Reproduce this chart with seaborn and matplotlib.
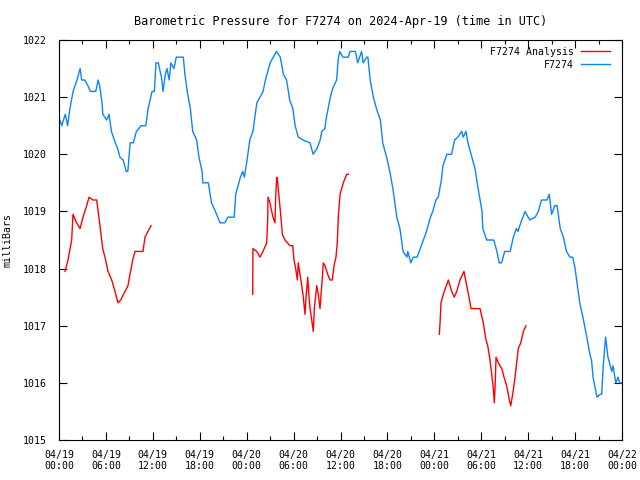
import pandas as pd
import numpy as np
import matplotlib
matplotlib.use("Agg")
import matplotlib.pyplot as plt
import seaborn as sns
from matplotlib.lines import Line2D
from matplotlib.ticker import MultipleLocator

# hours since 04/19 00:00 UTC
obs_hours = [0.1, 0.35, 0.8, 1.1, 1.4, 1.8, 2.3, 2.7, 2.9, 3.3, 3.7, 4.0, 4.7, 5.0, 5.2, 5.5, 5.6, 6.1, 6.4, 6.7,
             7.2, 7.5, 7.8, 8.2, 8.6, 8.8, 9.1, 9.5, 9.9, 10.5, 11.1, 11.4, 11.9, 12.2, 12.4, 12.7, 13.1, 13.3, 13.6, 13.8,
             14.1, 14.3, 14.7, 15.0, 15.9, 16.1, 16.4, 16.8, 17.1, 17.6, 17.9, 18.3, 18.4, 19.1, 19.5, 20.0, 20.6, 21.2, 21.6, 22.4,
             22.6, 23.2, 23.5, 23.7, 24.0, 24.4, 24.8, 25.3, 25.7, 26.1, 26.4, 27.0, 27.4, 27.8, 28.3, 28.7, 29.1, 29.5, 29.9, 30.2,
             30.6, 31.2, 32.1, 32.5, 33.0, 33.4, 33.6, 34.0, 34.2, 34.7, 35.0, 35.5, 35.7, 35.9, 36.3, 37.0, 37.2, 37.9, 38.2, 38.7,
             38.9, 39.35, 39.5, 39.8, 40.2, 40.6, 41.1, 41.4, 41.9, 42.3, 42.7, 43.2, 43.6, 44.0, 44.5, 44.6, 45.0, 45.3, 45.8, 46.2,
             46.6, 47.0, 47.5, 47.8, 48.2, 48.5, 48.9, 49.1, 49.6, 50.2, 50.6, 51.0, 51.5, 51.7, 52.05, 52.3, 52.8, 53.2, 53.6, 54.1,
             54.2, 54.7, 55.3, 55.6, 56.0, 56.3, 56.6, 57.0, 57.7, 58.1, 58.5, 58.7, 59.05, 59.6, 59.8, 60.2, 60.9, 61.3, 61.7, 62.4,
             62.7, 63.0, 63.4, 63.7, 64.1, 64.5, 64.9, 65.35, 65.7, 66.0, 66.4, 66.6, 67.0, 67.5, 67.9, 68.1, 68.3, 68.8, 69.2, 69.4,
             69.6, 69.9, 70.2, 70.7, 70.85, 71.2, 71.5, 71.7, 72.0]
obs_mb = [1020.6, 1020.5, 1020.7, 1020.5, 1020.8, 1021.1, 1021.3, 1021.5, 1021.3, 1021.3, 1021.2, 1021.1, 1021.1, 1021.3, 1021.2, 1020.9, 1020.7, 1020.6, 1020.7, 1020.4,
          1020.2, 1020.1, 1019.95, 1019.9, 1019.7, 1019.7, 1020.2, 1020.2, 1020.4, 1020.5, 1020.5, 1020.8, 1021.1, 1021.1, 1021.6, 1021.6, 1021.35, 1021.1, 1021.4, 1021.5,
          1021.3, 1021.6, 1021.5, 1021.7, 1021.7, 1021.4, 1021.1, 1020.8, 1020.4, 1020.25, 1019.95, 1019.7, 1019.5, 1019.5, 1019.15, 1019.0, 1018.8, 1018.8, 1018.9, 1018.9,
          1019.3, 1019.6, 1019.7, 1019.6, 1019.85, 1020.25, 1020.4, 1020.9, 1021.0, 1021.1, 1021.3, 1021.6, 1021.7, 1021.8, 1021.7, 1021.4, 1021.3, 1020.95, 1020.8, 1020.5,
          1020.3, 1020.25, 1020.2, 1020.0, 1020.1, 1020.25, 1020.4, 1020.45, 1020.65, 1021.0, 1021.15, 1021.3, 1021.65, 1021.8, 1021.7, 1021.7, 1021.8, 1021.8, 1021.6, 1021.8,
          1021.6, 1021.7, 1021.7, 1021.3, 1021.0, 1020.8, 1020.6, 1020.2, 1019.95, 1019.7, 1019.4, 1018.9, 1018.7, 1018.3, 1018.2, 1018.3, 1018.1, 1018.2, 1018.2, 1018.35,
          1018.5, 1018.65, 1018.9, 1019.0, 1019.2, 1019.25, 1019.55, 1019.8, 1020.0, 1020.0, 1020.25, 1020.3, 1020.4, 1020.3, 1020.4, 1020.2, 1019.95, 1019.75, 1019.4, 1019.0,
          1018.7, 1018.5, 1018.5, 1018.5, 1018.3, 1018.1, 1018.1, 1018.3, 1018.3, 1018.55, 1018.7, 1018.65, 1018.8, 1019.0, 1018.95, 1018.85, 1018.9, 1019.0, 1019.2, 1019.2,
          1019.3, 1018.95, 1019.1, 1019.1, 1018.7, 1018.55, 1018.3, 1018.2, 1018.2, 1018.0, 1017.6, 1017.4, 1017.15, 1016.8, 1016.5, 1016.4, 1016.1, 1015.75, 1015.8, 1015.8,
          1016.3, 1016.8, 1016.45, 1016.2, 1016.3, 1016.0, 1016.1, 1016.0, 1016.0]

# analysis runs (three separate pieces)
ana1_hours = [0.77, 1.15, 1.62, 1.79, 2.26, 2.69, 3.07, 3.54, 3.84, 4.35, 4.82, 5.24, 5.59, 5.88, 6.27, 6.74, 7.16, 7.54,
              7.89, 8.44, 8.82, 9.08, 9.43, 9.72, 10.74, 11.0, 11.38, 11.77]
ana1_mb = [1017.95, 1018.15, 1018.5, 1018.95, 1018.8, 1018.7, 1018.9, 1019.1, 1019.25, 1019.2, 1019.2, 1018.75, 1018.35, 1018.2,
           1017.95, 1017.8, 1017.6, 1017.4, 1017.45, 1017.6, 1017.7, 1017.9, 1018.15, 1018.3, 1018.3, 1018.55, 1018.65, 1018.75]
ana2_hours = [24.77, 24.8, 25.28, 25.71, 26.09, 26.56, 26.69, 26.73, 26.98, 27.2, 27.37, 27.62, 27.71, 27.84, 27.97, 28.14,
              28.35, 28.56, 28.9, 29.54, 29.89, 30.05, 30.27, 30.48, 30.6, 30.82, 31.04, 31.24, 31.46, 31.59, 31.81, 31.97,
              32.1, 32.32, 32.52, 32.65, 32.96, 33.16, 33.38, 33.6, 33.8, 34.02, 34.36, 34.66, 34.95, 35.17, 35.42, 35.59,
              35.72, 35.94, 36.36, 36.79, 37.0]
ana2_mb = [1017.55, 1018.35, 1018.3, 1018.2, 1018.3, 1018.45, 1018.85, 1019.25, 1019.15, 1019.0, 1018.9, 1018.8, 1019.25, 1019.6,
           1019.5, 1019.25, 1018.95, 1018.6, 1018.5, 1018.4, 1018.4, 1018.15, 1018.0, 1017.8, 1018.1, 1017.9, 1017.7, 1017.5,
           1017.2, 1017.5, 1017.85, 1017.5, 1017.3, 1017.1, 1016.9, 1017.3, 1017.7, 1017.55, 1017.3, 1017.7, 1018.1, 1018.05,
           1017.9, 1017.8, 1017.8, 1018.05, 1018.2, 1018.45, 1018.9, 1019.3, 1019.5, 1019.65, 1019.65]
ana3_hours = [48.64, 48.73, 48.85, 49.15, 49.79, 50.22, 50.55, 50.86, 51.28, 51.79, 52.14, 52.43, 52.69, 53.84, 54.26, 54.61,
              54.83, 55.12, 55.34, 55.54, 55.67, 55.76, 55.89, 56.18, 56.62, 56.91, 57.25, 57.59, 57.77, 58.02, 58.32, 58.74,
              59.05, 59.39, 59.72]
ana3_mb = [1016.85, 1017.05, 1017.4, 1017.55, 1017.8, 1017.6, 1017.5, 1017.6, 1017.8, 1017.95, 1017.7, 1017.5, 1017.3, 1017.3,
           1017.05, 1016.75, 1016.65, 1016.4, 1016.15, 1015.9, 1015.65, 1015.9, 1016.45, 1016.35, 1016.25, 1016.1, 1015.95,
           1015.7, 1015.6, 1015.8, 1016.1, 1016.6, 1016.7, 1016.9, 1017.0]

tick_hours = list(range(0, 73, 6))
tick_labels = ["04/19\n00:00", "04/19\n06:00", "04/19\n12:00", "04/19\n18:00",
               "04/20\n00:00", "04/20\n06:00", "04/20\n12:00", "04/20\n18:00",
               "04/21\n00:00", "04/21\n06:00", "04/21\n12:00", "04/21\n18:00",
               "04/22\n00:00"]

obs_df = pd.DataFrame({"hour": obs_hours, "mb": obs_mb})
ana_df = pd.concat([
    pd.DataFrame({"hour": ana1_hours, "mb": ana1_mb, "run": 1}),
    pd.DataFrame({"hour": ana2_hours, "mb": ana2_mb, "run": 2}),
    pd.DataFrame({"hour": ana3_hours, "mb": ana3_mb, "run": 3}),
])

plt.rcParams["font.family"] = ["DejaVu Sans Mono"]
plt.rcParams["font.size"] = 7.1

red = "#ff0000"
blue = "#0a84ff"

fig = plt.figure(figsize=(6.4, 4.8), dpi=100)
ax = fig.add_axes([59 / 640, 40 / 480, 563 / 640, 400 / 480])

sns.lineplot(data=ana_df, x="hour", y="mb", units="run", estimator=None, color=red, linewidth=1, ax=ax, legend=False)
sns.lineplot(data=obs_df, x="hour", y="mb", color=blue, linewidth=1, ax=ax, legend=False)

ax.set_xlim(0, 72)
ax.set_ylim(1015, 1022)
ax.set_xticks(tick_hours)
ax.set_xticklabels(tick_labels, linespacing=1.15)
ax.xaxis.set_minor_locator(MultipleLocator(3))
ax.set_yticks(range(1015, 1023))
ax.tick_params(which="both", direction="in", top=True, right=True, width=0.8)
ax.tick_params(axis="x", which="both", pad=7)
ax.tick_params(axis="y", which="both", pad=8.5)
ax.tick_params(which="major", length=6)
ax.tick_params(which="minor", length=3)
for s in ax.spines.values():
    s.set_linewidth(0.8)

ax.set_xlabel("")
ax.set_ylabel("milliBars")
ax.yaxis.set_label_coords(-0.083, 0.5)
ax.set_title("Barometric Pressure for F7274 on 2024-Apr-19 (time in UTC)", pad=11)

handles = [Line2D([], [], color=red, linewidth=1), Line2D([], [], color=blue, linewidth=1)]
ax.legend(handles, ["F7274 Analysis", "F7274"], loc="upper right", bbox_to_anchor=(0.986, 0.993),
          frameon=False, markerfirst=False, handlelength=2.95, labelspacing=0.3,
          borderaxespad=0, handletextpad=0.7)

fig.savefig("out.png", dpi=100)
